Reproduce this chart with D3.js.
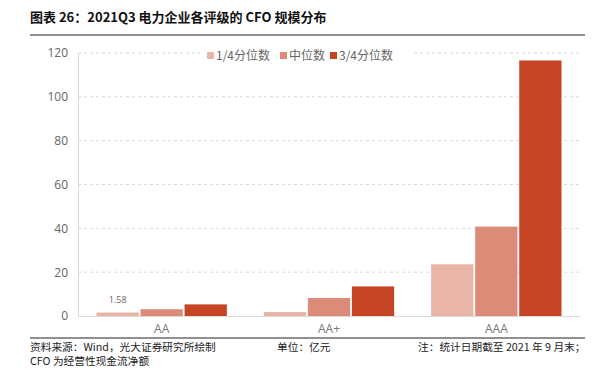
<!DOCTYPE html>
<html>
<head>
<meta charset="utf-8">
<script src="https://cdn.jsdelivr.net/npm/d3@7"></script>
<style>
  body { margin: 0; background: #fff; }
  svg { display: block; font-family: "Noto Sans CJK SC", "Noto Sans", sans-serif; }
</style>
</head>
<body>
<svg id="chart" width="598" height="373"></svg>
<script>
// data
const categories = ['AA', 'AA+', 'AAA'];
const seriesNames = ['1/4分位数', '中位数', '3/4分位数'];
const seriesColors = ['#e8b5a6', '#dc8b79', '#c54424'];
const q1 = [1.58, 1.8, 23.6];
const median = [3.1, 8.2, 40.8];
const q3 = [5.3, 13.5, 116.6];
const yTicks = [0, 20, 40, 60, 80, 100, 120];

const values = [q1, median, q3];

const svg = d3.select('#chart');
const margin = { top: 53, right: 18, bottom: 57, left: 78 };
const width = 598, height = 373;

// title
svg.append('text')
  .attr('x', 30).attr('y', 22)
  .attr('font-size', 13).attr('font-weight', 700)
  .attr('fill', '#111')
  .text('图表 26：2021Q3 电力企业各评级的 CFO 规模分布');
svg.append('line')
  .attr('x1', 30).attr('x2', 585).attr('y1', 35).attr('y2', 35)
  .attr('stroke', '#222').attr('stroke-width', 1);

const x0 = d3.scaleBand()
  .domain(categories)
  .range([margin.left, width - margin.right])
  .paddingInner(0.2).paddingOuter(0.1);
const x1 = d3.scaleBand()
  .domain(d3.range(seriesNames.length))
  .range([0, x0.bandwidth()])
  .padding(0.04);
const y = d3.scaleLinear()
  .domain([0, 120])
  .range([height - margin.bottom, margin.top]);

// grid
svg.append('g')
  .selectAll('line')
  .data(yTicks.filter(d => d > 0))
  .join('line')
  .attr('x1', margin.left).attr('x2', width - margin.right)
  .attr('y1', d => y(d)).attr('y2', d => y(d))
  .attr('stroke', '#d9d9d9').attr('stroke-dasharray', '3,3');

// y axis
const yAxis = svg.append('g')
  .attr('transform', `translate(${margin.left},0)`)
  .call(d3.axisLeft(y).tickValues(yTicks).tickSize(0).tickPadding(10));
yAxis.select('.domain').attr('stroke', '#d9d9d9');
yAxis.selectAll('text').attr('font-size', 12).attr('fill', '#666')
  .attr('font-family', '"Open Sans", "Noto Sans", sans-serif');

// bars
const groups = svg.append('g')
  .selectAll('g')
  .data(categories)
  .join('g')
  .attr('transform', d => `translate(${x0(d)},0)`);

groups.selectAll('rect')
  .data((d, i) => values.map((s, k) => ({ k, v: s[i] })))
  .join('rect')
  .attr('x', d => x1(d.k))
  .attr('width', x1.bandwidth())
  .attr('y', d => y(d.v))
  .attr('height', d => y(0) - y(d.v))
  .attr('fill', d => seriesColors[d.k]);

// data label on first bar
svg.append('text')
  .attr('x', x0('AA') + x1(0) + x1.bandwidth() / 2)
  .attr('y', y(q1[0]) - 10)
  .attr('text-anchor', 'middle')
  .attr('font-size', 9).attr('fill', '#666')
  .attr('font-family', '"Open Sans", "Noto Sans", sans-serif')
  .text(q1[0].toFixed(2));

// x axis
const xAxis = svg.append('g')
  .attr('transform', `translate(0,${y(0)})`)
  .call(d3.axisBottom(x0).tickSize(0).tickPadding(8));
xAxis.select('.domain').attr('stroke', '#d9d9d9');
xAxis.selectAll('text').attr('font-size', 12).attr('fill', '#777')
  .attr('font-family', '"Open Sans", "Noto Sans", sans-serif');

// legend
const legendX = [207, 280, 330];
const legend = svg.append('g');
legend.append('rect')
  .attr('x', 200).attr('y', 46).attr('width', 212).attr('height', 16)
  .attr('fill', '#fff');
seriesNames.forEach((name, i) => {
  legend.append('rect')
    .attr('x', legendX[i]).attr('y', 52).attr('width', 7).attr('height', 7)
    .attr('fill', seriesColors[i]);
  legend.append('text')
    .attr('x', legendX[i] + 9).attr('y', 60)
    .attr('font-size', 12).attr('fill', '#666')
    .text(name);
});

// footer
svg.append('line')
  .attr('x1', 30).attr('x2', 585).attr('y1', 338).attr('y2', 338)
  .attr('stroke', '#222').attr('stroke-width', 1);
const foot = svg.append('g').attr('font-size', 10.7).attr('fill', '#222');
foot.append('text').attr('x', 30).attr('y', 351).text('资料来源：Wind，光大证券研究所绘制');
foot.append('text').attr('x', 30).attr('y', 365).text('CFO 为经营性现金流净额');
foot.append('text').attr('x', 277).attr('y', 351).text('单位：亿元');
foot.append('text').attr('x', 418).attr('y', 351).text('注：统计日期截至 2021 年 9 月末；');
</script>
</body>
</html>
